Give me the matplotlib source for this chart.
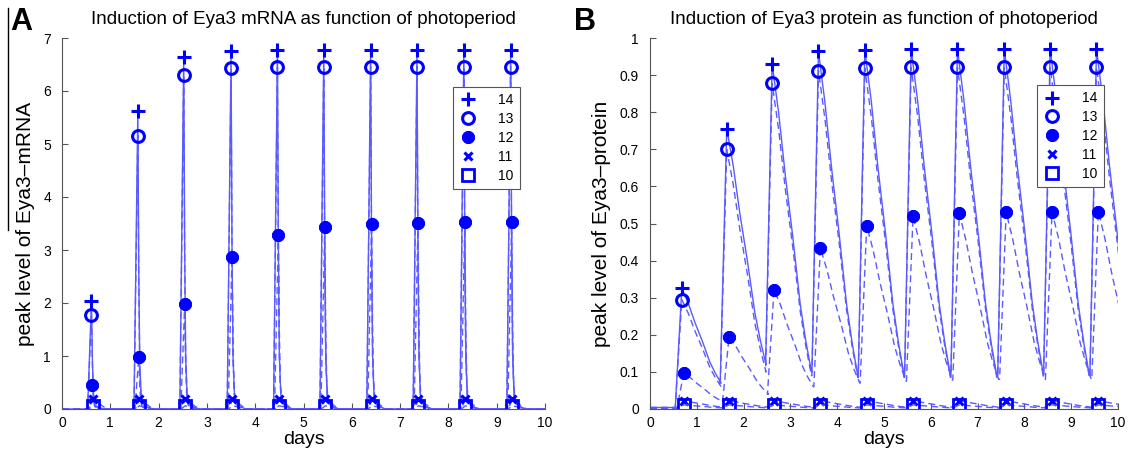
import matplotlib
matplotlib.use("Agg")
import matplotlib.pyplot as plt
from matplotlib.lines import Line2D

plt.rcParams['font.family'] = ['Liberation Sans', 'DejaVu Sans']

# ---------------- data ----------------
photoperiods = ['14', '13', '12', '11', '10']

# Panel A: mRNA peaks (days, level)
mrna_t_peak = [0.61, 1.57, 2.52, 3.50, 4.46, 5.42, 6.39, 7.35, 8.32, 9.29]
mrna_t_peak12 = [0.63, 1.59, 2.54, 3.52, 4.48, 5.44, 6.41, 7.37, 8.34, 9.31]
mrna_t_peak_low = [0.64, 1.60, 2.55, 3.53, 4.49, 5.45, 6.42, 7.38, 8.35, 9.32]
mrna_14 = [2.04, 5.62, 6.65, 6.76, 6.77, 6.77, 6.77, 6.77, 6.77, 6.77]
mrna_13 = [1.78, 5.16, 6.30, 6.43, 6.45, 6.46, 6.46, 6.46, 6.46, 6.46]
mrna_12 = [0.45, 0.98, 1.98, 2.86, 3.29, 3.44, 3.49, 3.51, 3.53, 3.53]
mrna_11 = [0.18, 0.18, 0.18, 0.18, 0.18, 0.18, 0.18, 0.18, 0.18, 0.18]
mrna_10 = [0.06, 0.06, 0.06, 0.06, 0.06, 0.06, 0.06, 0.06, 0.06, 0.06]
# shape of one mRNA pulse (offset from peak in days, fraction of peak)
mrna_rise_dt = 0.08
mrna_decay_dt = [0.0, 0.02, 0.04, 0.07, 0.14, 0.30]
mrna_decay_frac = [1.0, 0.45, 0.15, 0.04, 0.01, 0.0]
mrna_low_decay_dt = [0.0, 0.10, 0.20, 0.30]
mrna_low_decay_frac = [1.0, 0.70, 0.30, 0.0]

# Panel B: protein peaks (days, level)
prot_t_peak = [0.68, 1.64, 2.61, 3.60, 4.59, 5.58, 6.57, 7.57, 8.55, 9.54]
prot_t_peak12 = [0.72, 1.69, 2.65, 3.64, 4.63, 5.62, 6.61, 7.61, 8.59, 9.58]
prot_t_peak_low = [0.72, 1.69, 2.65, 3.64, 4.63, 5.62, 6.61, 7.61, 8.59, 9.58]
prot_14 = [0.325, 0.756, 0.930, 0.964, 0.968, 0.970, 0.970, 0.970, 0.970, 0.970]
prot_13 = [0.295, 0.700, 0.878, 0.912, 0.919, 0.921, 0.921, 0.921, 0.921, 0.921]
prot_12 = [0.097, 0.195, 0.322, 0.434, 0.494, 0.519, 0.527, 0.530, 0.532, 0.532]
prot_11 = [0.022, 0.022, 0.022, 0.022, 0.022, 0.022, 0.022, 0.022, 0.022, 0.022]
prot_10 = [0.011, 0.011, 0.011, 0.011, 0.011, 0.011, 0.011, 0.011, 0.011, 0.011]
# level just before each rise
prot_trough_14 = [0.004, 0.070, 0.120, 0.100, 0.090, 0.090, 0.090, 0.090, 0.090, 0.090]
prot_trough_13 = [0.004, 0.060, 0.100, 0.090, 0.085, 0.085, 0.085, 0.085, 0.085, 0.085]
prot_trough_12 = [0.004, 0.020, 0.040, 0.060, 0.070, 0.075, 0.078, 0.080, 0.080, 0.080]
prot_trough_11 = [0.002, 0.005, 0.005, 0.005, 0.005, 0.005, 0.005, 0.005, 0.005, 0.005]
prot_trough_10 = [0.001, 0.003, 0.003, 0.003, 0.003, 0.003, 0.003, 0.003, 0.003, 0.003]
prot_rise_dt = 0.14
prot_decay_dt = [0.0, 0.14, 0.28, 0.44, 0.60, 0.72, 0.84]
prot_decay_frac = [1.0, 0.84, 0.64, 0.44, 0.22, 0.10, 0.0]

x_ticks = [0, 1, 2, 3, 4, 5, 6, 7, 8, 9, 10]
mrna_yticks = [0, 1, 2, 3, 4, 5, 6, 7]
prot_yticks = [0, 0.1, 0.2, 0.3, 0.4, 0.5, 0.6, 0.7, 0.8, 0.9, 1.0]
prot_yticklabels = ['0', '0.1', '0.2', '0.3', '0.4', '0.5', '0.6', '0.7', '0.8', '0.9', '1']

# ---------------- helpers ----------------
def mrna_curve(tp, peaks, decay_dt, decay_frac):
    xs, ys = [0.0], [0.0]
    for t, p in zip(tp, peaks):
        xs += [t - mrna_rise_dt, t]
        ys += [0.0, p]
        for d, f in zip(decay_dt[1:], decay_frac[1:]):
            xs.append(t + d)
            ys.append(p * f)
    xs.append(10.0)
    ys.append(0.0)
    return xs, ys

def prot_curve(tp, peaks, troughs):
    xs, ys = [0.0], [troughs[0]]
    n = len(tp)
    for i in range(n):
        t, p = tp[i], peaks[i]
        xs += [t - prot_rise_dt, t]
        ys += [troughs[i], p]
        nxt = troughs[i + 1] if i + 1 < n else troughs[-1]
        for d, f in zip(prot_decay_dt[1:], prot_decay_frac[1:]):
            xs.append(t + d)
            ys.append(nxt + (p - nxt) * f)
    return xs, ys

line_col = '#5a5aff'
mk_col = '#0000ff'
marker_styles = [
    dict(marker='+', ms=10, mew=2.2),
    dict(marker='o', ms=8.5, mew=2.2, mfc='none'),
    dict(marker=(8, 2, 0), ms=9, mew=3.0),
    dict(marker='x', ms=6, mew=2.2),
    dict(marker='s', ms=8, mew=2.0, mfc='none'),
]
line_styles = ['-', '--', '--', '--', '--']

fig = plt.figure(figsize=(11.28, 4.5), dpi=100)
axA = fig.add_axes([62 / 1128, 41 / 450, 483 / 1128, 371 / 450])
axB = fig.add_axes([650 / 1128, 41 / 450, 468 / 1128, 371 / 450])

# ---- Panel A ----
mrna_peaks = [mrna_14, mrna_13, mrna_12, mrna_11, mrna_10]
mrna_times = [mrna_t_peak, mrna_t_peak, mrna_t_peak12, mrna_t_peak_low, mrna_t_peak_low]
for i, (tp, pk) in enumerate(zip(mrna_times, mrna_peaks)):
    if i >= 3:
        xs, ys = mrna_curve(tp, pk, mrna_low_decay_dt, mrna_low_decay_frac)
    else:
        xs, ys = mrna_curve(tp, pk, mrna_decay_dt, mrna_decay_frac)
    ln, = axA.plot(xs, ys, color=line_col, lw=1.0, ls=line_styles[i])
    if line_styles[i] == '--':
        ln.set_dashes((5, 3))
    axA.plot(tp, pk, ls='none', color=mk_col, **marker_styles[i])

# ---- Panel B ----
prot_peaks = [prot_14, prot_13, prot_12, prot_11, prot_10]
prot_troughs = [prot_trough_14, prot_trough_13, prot_trough_12, prot_trough_11, prot_trough_10]
prot_times = [prot_t_peak, prot_t_peak, prot_t_peak12, prot_t_peak_low, prot_t_peak_low]
for i, (tp, pk, tr) in enumerate(zip(prot_times, prot_peaks, prot_troughs)):
    xs, ys = prot_curve(tp, pk, tr)
    ln, = axB.plot(xs, ys, color=line_col, lw=1.0, ls=line_styles[i])
    if line_styles[i] == '--':
        ln.set_dashes((5, 3))
    axB.plot(tp, pk, ls='none', color=mk_col, **marker_styles[i])

def style(ax, ylim, yticks, yticklabels, title, ylabel):
    ax.set_xlim(0, 10)
    ax.set_ylim(*ylim)
    ax.set_xticks(x_ticks)
    ax.set_yticks(yticks)
    if yticklabels is not None:
        ax.set_yticklabels(yticklabels)
    for s in ['top', 'right']:
        ax.spines[s].set_visible(False)
    for s in ['left', 'bottom']:
        ax.spines[s].set_color('#555555')
        ax.spines[s].set_linewidth(0.8)
    ax.tick_params(direction='in', length=4, width=0.8, color='#555555',
                   labelsize=10)
    ax.tick_params(axis='y', pad=8)
    ax.tick_params(axis='x', pad=5)
    ax.set_title(title, fontsize=13.5, pad=10)
    ax.set_xlabel('days', fontsize=14, labelpad=1)
    ax.set_ylabel(ylabel, fontsize=15, labelpad=6)
    handles = [Line2D([], [], ls='none', color=mk_col, **ms) for ms in marker_styles]
    return handles

hA = style(axA, (0, 7), mrna_yticks, None,
           'Induction of Eya3 mRNA as function of photoperiod', 'peak level of Eya3–mRNA')
hB = style(axB, (0, 1), prot_yticks, prot_yticklabels,
           'Induction of Eya3 protein as function of photoperiod', 'peak level of Eya3–protein')

for ax, h, anchor in [(axA, hA, (0.948, 0.868)), (axB, hB, (0.97, 0.873))]:
    leg = ax.legend(h, photoperiods, loc='upper right', bbox_to_anchor=anchor,
                    fontsize=10, handlelength=1.2, handletextpad=1.6,
                    borderpad=0.45, labelspacing=0.35, fancybox=False,
                    framealpha=1, borderaxespad=0)
    leg.get_frame().set_edgecolor('#555555')
    leg.get_frame().set_linewidth(0.8)

fig.text(10 / 1128, 1 - 22 / 450, 'A', fontsize=22, fontweight='bold', va='center')
fig.text(574 / 1128, 1 - 22 / 450, 'B', fontsize=22, fontweight='bold', va='center')
fig.add_artist(Line2D([8 / 1128, 8 / 1128], [1 - 8 / 450, 1 - 230 / 450],
                      color='black', lw=1))

fig.savefig('out.png', dpi=100)
